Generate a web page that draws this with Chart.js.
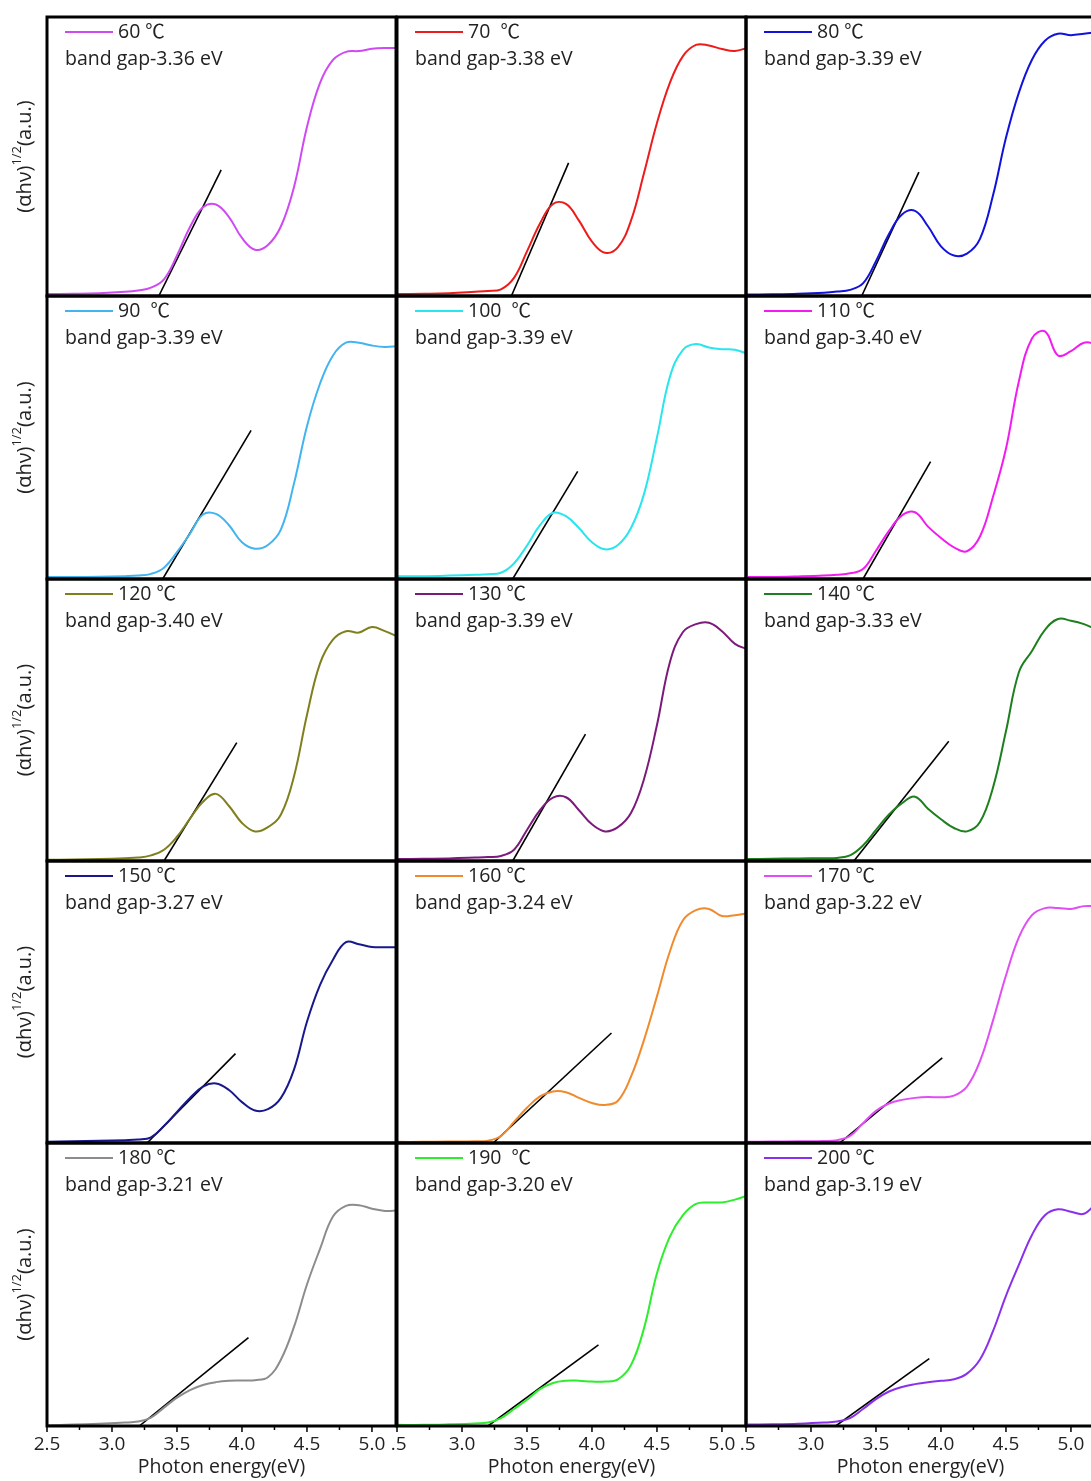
<!DOCTYPE html>
<html>
<head>
<meta charset="utf-8">
<script src="https://cdn.jsdelivr.net/npm/chart.js@4.4.0/dist/chart.umd.min.js"></script>
<style>
  html, body { margin: 0; padding: 0; background: #fff; width: 1091px; height: 1481px; overflow: hidden; }
  #wrap { position: relative; width: 1091px; height: 1481px; overflow: hidden; }
  #wrap canvas { position: absolute; }
</style>
</head>
<body>
<div id="wrap"></div>
<script>
// 光子能量 (eV)
const energy = [2.5, 2.7, 2.9, 3.1, 3.2, 3.3, 3.4, 3.5, 3.6, 3.7, 3.8, 3.9, 4.0, 4.1, 4.2, 4.3, 4.4, 4.5, 4.6, 4.7, 4.8, 4.9, 5.0, 5.1, 5.2];
const xTicks = [2.5, 3.0, 3.5, 4.0, 4.5, 5.0];

const temps = ['60 ℃', '70  ℃', '80 ℃', '90  ℃', '100  ℃', '110 ℃', '120 ℃', '130 ℃', '140 ℃', '150 ℃', '160 ℃', '170 ℃', '180 ℃', '190  ℃', '200 ℃'];
const bandGaps = [3.36, 3.38, 3.39, 3.39, 3.39, 3.40, 3.40, 3.39, 3.33, 3.27, 3.24, 3.22, 3.21, 3.20, 3.19];

// (αhν)^1/2, 归一化
const t60  = [.007, .008, .010, .015, .020, .030, .060, .145, .247, .318, .328, .283, .208, .166, .183, .250, .390, .606, .763, .846, .875, .878, .886, .889, .889];
const t70  = [.007, .008, .010, .015, .018, .024, .065, .160, .260, .330, .330, .270, .195, .155, .175, .270, .440, .620, .765, .860, .900, .898, .885, .878, .890];
const t80  = [.005, .006, .008, .012, .016, .022, .045, .125, .222, .292, .305, .250, .178, .145, .152, .205, .360, .567, .730, .847, .915, .940, .935, .940, .946];
const t90  = [.007, .007, .008, .010, .012, .018, .040, .095, .160, .228, .230, .190, .130, .107, .120, .175, .337, .540, .690, .790, .835, .835, .825, .820, .823];
const t100 = [.010, .010, .012, .015, .017, .022, .055, .118, .190, .234, .222, .180, .130, .105, .120, .180, .300, .500, .715, .810, .830, .818, .812, .810, .795];
const t110 = [.007, .007, .009, .012, .015, .020, .035, .100, .170, .225, .236, .185, .145, .112, .098, .150, .290, .460, .700, .850, .875, .790, .805, .835, .830];
const t120 = [.004, .005, .007, .010, .012, .020, .040, .086, .150, .210, .238, .195, .135, .105, .120, .165, .300, .518, .700, .785, .815, .810, .830, .815, .795];
const t130 = [.007, .008, .009, .012, .014, .018, .040, .110, .180, .225, .226, .180, .130, .105, .120, .170, .290, .482, .706, .812, .840, .845, .815, .770, .750];
const t140 = [.007, .008, .009, .010, .011, .020, .055, .110, .165, .205, .228, .185, .148, .117, .105, .138, .260, .460, .670, .745, .820, .858, .852, .840, .820];
const t150 = [.004, .006, .008, .010, .012, .020, .060, .110, .160, .200, .211, .188, .145, .115, .120, .160, .260, .430, .560, .650, .712, .705, .695, .694, .694];
const t160 = [.004, .004, .005, .006, .008, .025, .075, .125, .165, .183, .180, .160, .142, .135, .150, .235, .365, .520, .680, .790, .826, .830, .805, .808, .815];
const t170 = [.004, .005, .006, .007, .010, .025, .070, .114, .140, .153, .160, .163, .162, .168, .200, .290, .434, .594, .730, .808, .833, .833, .830, .840, .840];
const t180 = [.003, .005, .008, .012, .016, .030, .065, .100, .127, .145, .155, .160, .161, .162, .172, .235, .350, .500, .625, .740, .778, .780, .768, .760, .762];
const t190 = [.004, .004, .006, .009, .012, .028, .060, .093, .130, .152, .160, .160, .157, .157, .165, .215, .345, .540, .670, .745, .785, .790, .790, .800, .815];
const t200 = [.005, .006, .008, .012, .016, .028, .060, .095, .122, .138, .148, .155, .160, .165, .185, .235, .335, .460, .570, .675, .745, .766, .757, .750, .790];

// 切线终点
const tangentEndX = [3.84, 3.82, 3.83, 4.07, 3.89, 3.92, 3.96, 3.95, 4.06, 3.95, 4.15, 4.01, 4.05, 4.05, 3.91];
const tangentEndY = [.452, .477, .444, .525, .380, .415, .420, .450, .425, .317, .390, .302, .312, .287, .238];

const series = [t60, t70, t80, t90, t100, t110, t120, t130, t140, t150, t160, t170, t180, t190, t200];
const lineColors = ['#cf4af2', '#ee1b1b', '#1212dd', '#42b4ef', '#28e6ee', '#f21cf2', '#7f7f1e', '#7c1a7c', '#1e7f1e', '#18188c', '#f08a2c', '#e04ef4', '#8c8c8c', '#2cee2c', '#8a30ec'];

// 版面
const colLeft = [47, 397, 746];
const rowTop = [17, 296, 579, 861, 1143];
const rowH = [279, 283, 282, 282, 283];
const plotW = 349;
const M = 24;
const AXIS_H = 55;
const FONT = "'Open Sans', 'Noto Sans CJK SC', sans-serif";
const TEXT = '#222';

function decoPlugin(i, col, isBottom) {
    return {
        id: 'deco' + i,
        afterDraw(chart) {
            const ctx = chart.ctx;
            const a = chart.chartArea;
            ctx.save();

            // 图例
            ctx.strokeStyle = lineColors[i];
            ctx.lineWidth = 2;
            ctx.beginPath();
            ctx.moveTo(a.left + 18, a.top + 15);
            ctx.lineTo(a.left + 66, a.top + 15);
            ctx.stroke();
            ctx.fillStyle = TEXT;
            ctx.font = '19.5px ' + FONT;
            ctx.textBaseline = 'middle';
            ctx.textAlign = 'left';
            ctx.fillText(temps[i], a.left + 71, a.top + 15);
            ctx.fillText('band gap-' + bandGaps[i].toFixed(2) + ' eV', a.left + 18, a.top + 42);

            // 坐标刻度
            if (isBottom) {
                const xs = chart.scales.x;
                ctx.strokeStyle = '#000';
                ctx.lineWidth = 1.5;
                for (let v = 2.5; v <= 5.19; v += 0.25) {
                    const px = xs.getPixelForValue(v);
                    const major = Math.abs(v * 2 - Math.round(v * 2)) < 1e-6;
                    ctx.beginPath();
                    ctx.moveTo(px, a.bottom);
                    ctx.lineTo(px, a.bottom + (major ? 6 : 4));
                    ctx.stroke();
                }
            }

            // 纵轴标题
            if (col === 0) {
                ctx.translate(25, (a.top + a.bottom) / 2);
                ctx.rotate(-Math.PI / 2);
                const big = '20px ' + FONT, small = '13px ' + FONT;
                const parts = [['(αhν)', big, 0], ['1/2', small, -8], ['(a.u.)', big, 0]];
                let total = 0;
                parts.forEach(p => { ctx.font = p[1]; total += ctx.measureText(p[0]).width; });
                let x = -total / 2;
                ctx.fillStyle = TEXT;
                parts.forEach(p => {
                    ctx.font = p[1];
                    ctx.fillText(p[0], x, p[2]);
                    x += ctx.measureText(p[0]).width;
                });
            }
            ctx.restore();

            // 边框
            ctx.save();
            ctx.strokeStyle = '#000';
            ctx.lineWidth = 3;
            ctx.strokeRect(a.left, a.top, a.right - a.left, a.bottom - a.top);
            ctx.restore();
        }
    };
}

const wrap = document.getElementById('wrap');
series.forEach((ys, i) => {
    const row = Math.floor(i / 3), col = i % 3;
    const isBottom = row === 4;
    const padL = col === 0 ? 47 : M;
    const cw = padL + plotW + M;
    const ch = M + rowH[row] + (isBottom ? AXIS_H : M);

    const canvas = document.createElement('canvas');
    canvas.width = cw;
    canvas.height = ch;
    canvas.style.width = cw + 'px';
    canvas.style.height = ch + 'px';
    canvas.style.left = (colLeft[col] - padL) + 'px';
    canvas.style.top = (rowTop[row] - M) + 'px';
    wrap.appendChild(canvas);

    const xScale = {
        type: 'linear',
        min: 2.5,
        max: 5.185,
        display: isBottom,
        afterBuildTicks: (s) => { s.ticks = xTicks.map(v => ({ value: v })); },
        grid: { display: false, drawTicks: false },
        border: { display: false },
        ticks: {
            autoSkip: false,
            maxRotation: 0,
            padding: 7,
            color: TEXT,
            font: { size: 19, family: FONT },
            callback: (v) => (col > 0 && v === 2.5) ? '\u2009.5' : Number(v).toFixed(1)
        },
        title: {
            display: true,
            text: 'Photon energy(eV)',
            color: TEXT,
            font: { size: 19.5, family: FONT },
            padding: { top: 0, bottom: 2 }
        }
    };
    if (isBottom) xScale.afterFit = (s) => { s.height = AXIS_H; };

    new Chart(canvas, {
        type: 'line',
        data: {
            datasets: [{
                data: energy.map((e, k) => ({ x: e, y: ys[k] })),
                borderColor: lineColors[i],
                borderWidth: 2,
                pointRadius: 0,
                tension: 0.4,
                fill: false
            }, {
                data: [{ x: bandGaps[i], y: 0 }, { x: tangentEndX[i], y: tangentEndY[i] }],
                borderColor: '#000',
                borderWidth: 1.6,
                pointRadius: 0,
                tension: 0,
                fill: false
            }]
        },
        options: {
            responsive: false,
            animation: false,
            devicePixelRatio: 1,
            layout: { padding: { left: padL, top: M, right: M, bottom: isBottom ? 0 : M } },
            plugins: { legend: { display: false }, tooltip: { enabled: false } },
            scales: {
                x: xScale,
                y: { min: 0, max: 1, display: false }
            }
        },
        plugins: [decoPlugin(i, col, isBottom)]
    });
});
</script>
</body>
</html>
